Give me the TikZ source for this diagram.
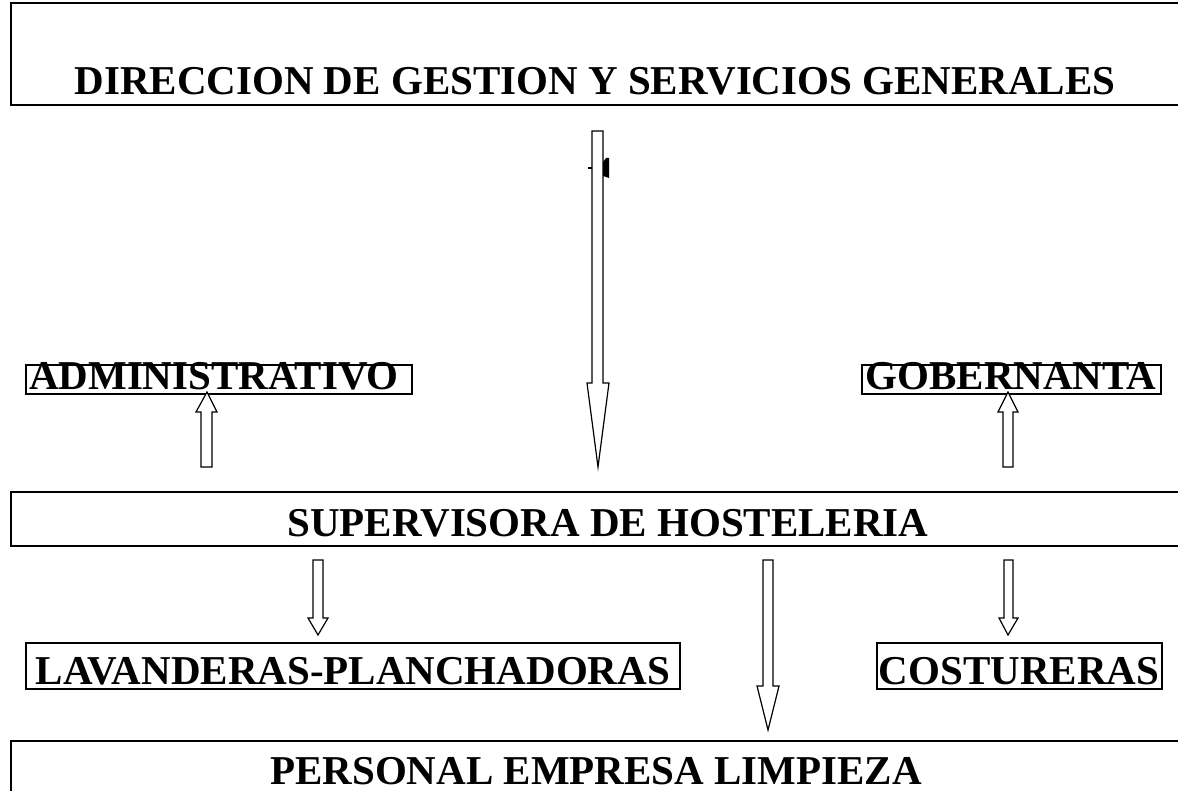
\documentclass[tikz,border=0pt]{standalone}
\usepackage{fontspec}
\setmainfont{Liberation Serif}
\begin{document}
\begin{tikzpicture}[x=1pt,y=-1pt,
  box/.style={draw,line width=1.8pt},
  lbl/.style={anchor=base,inner sep=0pt,font=\fontsize{41}{41}\selectfont\bfseries},
  harrow/.style={draw,line width=1.2pt,fill=white,line join=miter}]
\useasboundingbox (0,0) rectangle (1178,791);
% boxes
\draw[box] (1200,3) -- (11,3) -- (11,105) -- (1200,105);
\node[lbl] (dir) at (595,95) {DIRECCION DE GESTION Y SERVICIOS GENERALES};
\draw[box] (26,365) rectangle (412,394);
\node[lbl] (adm) at (214,390) {ADMINISTRATIVO};
\draw[box] (862,365) rectangle (1161,394);
\node[lbl] (gob) at (1011,390) {GOBERNANTA};
\draw[box] (1200,492) -- (11,492) -- (11,546) -- (1200,546);
\node[lbl] (sup) at (608,536) {SUPERVISORA DE HOSTELERIA};
\draw[box] (26,643) rectangle (680,689);
\node[lbl] (lav) at (353,684) {LAVANDERAS-PLANCHADORAS};
\draw[box] (877,643) rectangle (1162,689);
\node[lbl] (cos) at (1019,684) {COSTURERAS};
\draw[box] (1200,741) -- (11,741) -- (11,800);
\node[lbl] (per) at (596,784) {PERSONAL EMPRESA LIMPIEZA};
% top long arrow
\draw[harrow] (592,131) -- (603,131) -- (603,383) -- (609,383) -- (598,467) -- (587,383) -- (592,383) -- cycle;
\draw[line width=1.2pt] (588,168) -- (592,168);
\fill (603,162) -- (606,158) -- (609,158) -- (609,178) -- (603,176) -- cycle;
% up arrows
\draw[harrow] (201,467) -- (212,467) -- (212,412) -- (217,412) -- (207,392) -- (196,412) -- (201,412) -- cycle;
\draw[harrow] (1003,467) -- (1013,467) -- (1013,412) -- (1018,412) -- (1008,392) -- (998,412) -- (1003,412) -- cycle;
% down arrows
\draw[harrow] (313,560) -- (323,560) -- (323,618) -- (328,618) -- (318,635) -- (308,618) -- (313,618) -- cycle;
\draw[harrow] (763,560) -- (773,560) -- (773,686) -- (779,686) -- (768,730) -- (757,686) -- (763,686) -- cycle;
\draw[harrow] (1004,560) -- (1013,560) -- (1013,618) -- (1018,618) -- (1008,635) -- (999,618) -- (1004,618) -- cycle;
\end{tikzpicture}
\end{document}
